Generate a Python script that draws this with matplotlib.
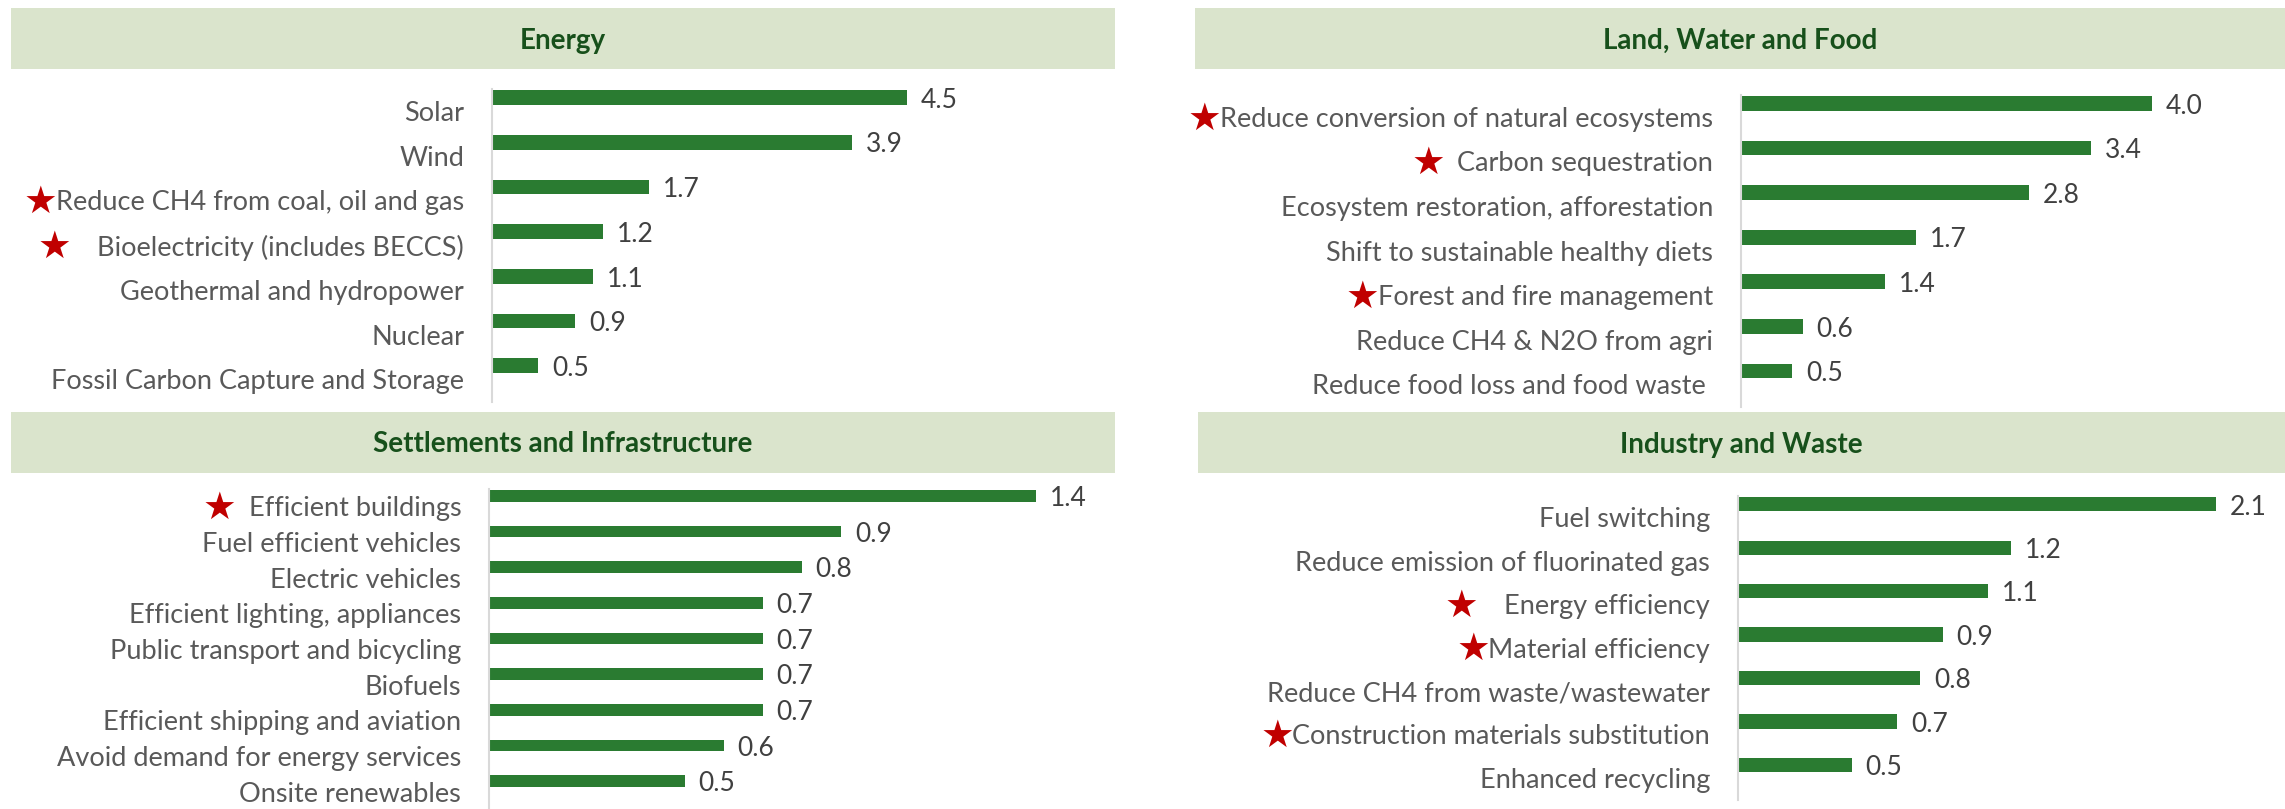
import numpy as np
import matplotlib
matplotlib.use("Agg")
import matplotlib.pyplot as plt
from matplotlib.patches import Rectangle

# ---- data -------------------------------------------------------------
energy_labels = [
    "Solar",
    "Wind",
    "Reduce CH4 from coal, oil and gas",
    "    Bioelectricity (includes BECCS)",
    "Geothermal and hydropower",
    "Nuclear",
    "Fossil Carbon Capture and Storage",
]
energy_values = [4.5, 3.9, 1.7, 1.2, 1.1, 0.9, 0.5]
energy_starred = [False, False, True, True, False, False, False]

land_labels = [
    "Reduce conversion of natural ecosystems",
    "  Carbon sequestration",
    "Ecosystem restoration, afforestation",
    "Shift to sustainable healthy diets",
    "Forest and fire management",
    "Reduce CH4 & N2O from agri",
    "Reduce food loss and food waste ",
]
land_values = [4.0, 3.4, 2.8, 1.7, 1.4, 0.6, 0.5]
land_starred = [True, True, False, False, True, False, False]

settle_labels = [
    "  Efficient buildings",
    "Fuel efficient vehicles",
    "Electric vehicles",
    "Efficient lighting, appliances",
    "Public transport and bicycling",
    "Biofuels",
    "Efficient shipping and aviation",
    "Avoid demand for energy services",
    "Onsite renewables",
]
settle_values = [1.4, 0.9, 0.8, 0.7, 0.7, 0.7, 0.7, 0.6, 0.5]
settle_starred = [True, False, False, False, False, False, False, False, False]

industry_labels = [
    "Fuel switching",
    "Reduce emission of fluorinated gas",
    "    Energy efficiency",
    "Material efficiency",
    "Reduce CH4 from waste/wastewater",
    "Construction materials substitution",
    "Enhanced recycling",
]
industry_values = [2.1, 1.2, 1.1, 0.9, 0.8, 0.7, 0.5]
industry_starred = [False, False, True, True, False, True, False]

# ---- style ------------------------------------------------------------
W, H, DPI = 2285, 809, 100
HEADER_BG = "#DAE4CC"
TITLE_COLOR = "#17501B"
BAR_COLOR = "#2A7B31"
LABEL_COLOR = "#595959"
VALUE_COLOR = "#404040"
STAR_COLOR = "#C00000"
AXIS_COLOR = "#D9D9D9"
FONT = ["Lato", "DejaVu Sans"]

# pixel layout: header box, plot box (x0, y0, x1, y1), pixels per unit
panels = [
    dict(title="Energy", labels=energy_labels, values=energy_values,
         starred=energy_starred, header=(11, 8, 1115, 69),
         plot=(492, 89, 1115, 402), ppu=92.2),
    dict(title="Land, Water and Food", labels=land_labels, values=land_values,
         starred=land_starred, header=(1195, 8, 2285, 69),
         plot=(1741, 95, 2285, 407), ppu=102.8),
    dict(title="Settlements and Infrastructure", labels=settle_labels,
         values=settle_values, starred=settle_starred,
         header=(11, 412, 1115, 473), plot=(489, 489, 1115, 810), ppu=391),
    dict(title="Industry and Waste", labels=industry_labels,
         values=industry_values, starred=industry_starred,
         header=(1198, 412, 2285, 473), plot=(1738, 496, 2285, 800), ppu=227.6),
]


def fig_rect(x0, y0, x1, y1):
    return [x0 / W, 1 - y1 / H, (x1 - x0) / W, (y1 - y0) / H]


fig = plt.figure(figsize=(W / DPI, H / DPI), dpi=DPI)
fig.patch.set_facecolor("white")

for p in panels:
    hx0, hy0, hx1, hy1 = p["header"]
    fig.patches.append(Rectangle((hx0 / W, 1 - hy1 / H), (hx1 - hx0) / W,
                                 (hy1 - hy0) / H, transform=fig.transFigure,
                                 facecolor=HEADER_BG, edgecolor="none", zorder=0))
    fig.text((hx0 + hx1) / 2 / W, 1 - (hy0 + hy1 + 4) / 2 / H, p["title"],
             ha="center", va="center", fontsize=20, fontweight="bold",
             color=TITLE_COLOR, family=FONT)

    x0, y0, x1, y1 = p["plot"]
    ax = fig.add_axes(fig_rect(x0, y0, x1, y1))
    vals = p["values"]
    n = len(vals)
    pos = np.arange(n)
    ax.barh(pos - 0.31, vals, height=0.33, color=BAR_COLOR, zorder=2)
    ax.set_ylim(n - 0.5, -0.5)
    ax.set_xlim(0, (x1 - x0) / p["ppu"])
    ax.set_xticks([])
    ax.set_yticks([])
    for s in ("top", "right", "bottom"):
        ax.spines[s].set_visible(False)
    ax.spines["left"].set_color(AXIS_COLOR)
    ax.spines["left"].set_linewidth(1.5)
    ax.patch.set_alpha(0)

    for i, (lab, v, star) in enumerate(zip(p["labels"], vals, p["starred"])):
        t = ax.annotate(lab, xy=(0, i), xycoords=("axes fraction", "data"),
                        xytext=(-20, -1.5), textcoords="offset points",
                        ha="right", va="center", fontsize=19.5,
                        color=LABEL_COLOR, family=FONT, annotation_clip=False)
        if star:
            ax.annotate("★", xy=(0, 0.5), xycoords=t, xytext=(1, 0),
                        textcoords="offset points", ha="right", va="center",
                        fontsize=27, color=STAR_COLOR,
                        family=["DejaVu Sans"], annotation_clip=False)
        ax.annotate(f"{v:.1f}", xy=(v, i - 0.31), xycoords="data",
                    xytext=(10, -2), textcoords="offset points",
                    ha="left", va="center", fontsize=19, color=VALUE_COLOR,
                    family=FONT, annotation_clip=False)

fig.savefig("out.png", dpi=DPI)
